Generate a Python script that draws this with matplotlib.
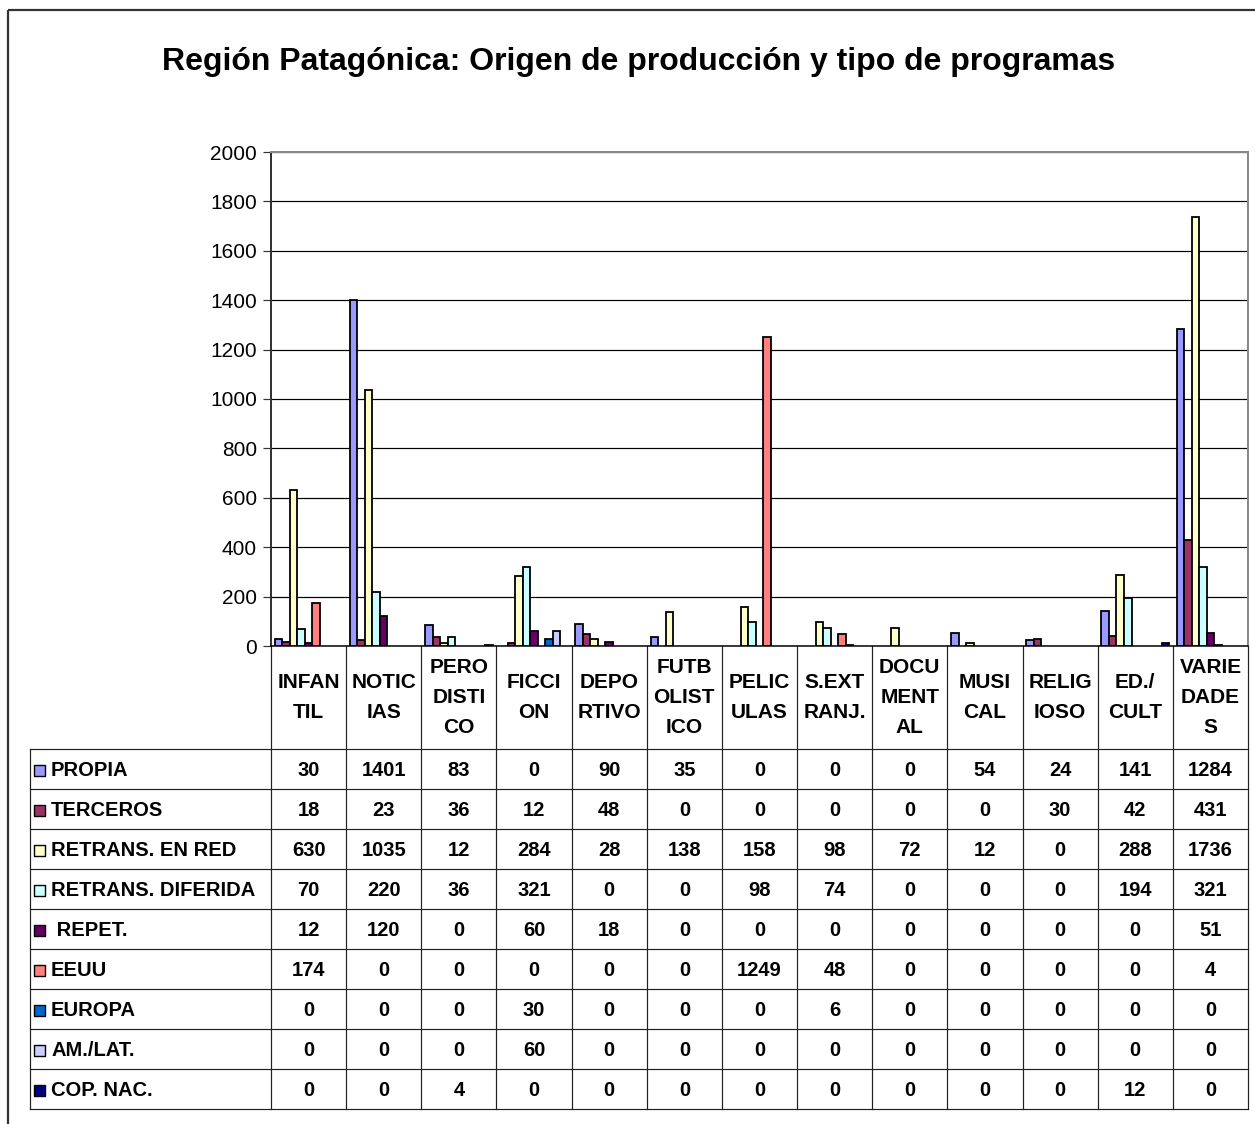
import matplotlib
matplotlib.use("Agg")
import matplotlib.pyplot as plt
import numpy as np

plt.rcParams['font.family'] = ['Liberation Sans', 'DejaVu Sans']

# --- data -------------------------------------------------------------
title = "Región Patagónica: Origen de producción y tipo de programas"

categories = ["INFAN\nTIL", "NOTIC\nIAS", "PERO\nDISTI\nCO", "FICCI\nON",
              "DEPO\nRTIVO", "FUTB\nOLIST\nICO", "PELIC\nULAS", "S.EXT\nRANJ.",
              "DOCU\nMENT\nAL", "MUSI\nCAL", "RELIG\nIOSO", "ED./\nCULT",
              "VARIE\nDADE\nS"]

series_names = ["PROPIA", "TERCEROS", "RETRANS. EN RED", "RETRANS. DIFERIDA",
                " REPET.", "EEUU", "EUROPA", "AM./LAT.", "COP. NAC."]

propia     = [30, 1401, 83, 0, 90, 35, 0, 0, 0, 54, 24, 141, 1284]
terceros   = [18, 23, 36, 12, 48, 0, 0, 0, 0, 0, 30, 42, 431]
retr_red   = [630, 1035, 12, 284, 28, 138, 158, 98, 72, 12, 0, 288, 1736]
retr_dif   = [70, 220, 36, 321, 0, 0, 98, 74, 0, 0, 0, 194, 321]
repet      = [12, 120, 0, 60, 18, 0, 0, 0, 0, 0, 0, 0, 51]
eeuu       = [174, 0, 0, 0, 0, 0, 1249, 48, 0, 0, 0, 0, 4]
europa     = [0, 0, 0, 30, 0, 0, 0, 6, 0, 0, 0, 0, 0]
am_lat     = [0, 0, 0, 60, 0, 0, 0, 0, 0, 0, 0, 0, 0]
cop_nac    = [0, 0, 4, 0, 0, 0, 0, 0, 0, 0, 0, 12, 0]

series = [propia, terceros, retr_red, retr_dif, repet, eeuu, europa, am_lat, cop_nac]

colors = ["#9999FF", "#993366", "#FFFFCC", "#CCFFFF", "#660066",
          "#FF8080", "#0066CC", "#CCCCFF", "#000080"]

y_ticks = [0, 200, 400, 600, 800, 1000, 1200, 1400, 1600, 1800, 2000]

# --- layout (pixels) --------------------------------------------------
W, H = 1255, 1124
DPI = 100
PX = 72.0 / DPI          # one pixel in points
plot_l, plot_r = 271, 1248
plot_t, plot_b = 152, 646
header_b = 749
row_h = 40
legend_l = 30

fig = plt.figure(figsize=(W / DPI, H / DPI), dpi=DPI)
fig.patch.set_facecolor("white")

# overlay in pixel coordinates for frame, table and title
ov = fig.add_axes([0, 0, 1, 1], zorder=0)
ov.set_xlim(0, W)
ov.set_ylim(H, 0)
ov.axis("off")

# bar chart axes
ax = fig.add_axes([plot_l / W, 1 - plot_b / H, (plot_r - plot_l) / W,
                   (plot_b - plot_t) / H], zorder=2)
ax.set_facecolor("none")
n_cat = len(categories)
n_ser = len(series)
x = np.arange(n_cat)
bw = 1.0 / (n_ser + 1)
for j, (vals, c) in enumerate(zip(series, colors)):
    vals = np.asarray(vals, dtype=float)
    keep = vals > 0
    ax.bar(x[keep] + (j - (n_ser - 1) / 2) * bw, vals[keep], width=bw, color=c,
           edgecolor="black", linewidth=1.8 * PX, zorder=3)

ax.set_xlim(-0.5, n_cat - 0.5)
ax.set_ylim(0, 2000)
ax.set_yticks(y_ticks)
ax.set_yticklabels([str(v) for v in y_ticks], fontsize=15)
ax.set_xticks([])
ax.tick_params(axis="y", length=6, width=1.2 * PX, color="#333333", pad=4)
ax.yaxis.grid(True, color="black", linewidth=1.2 * PX, zorder=1)
ax.set_axisbelow(True)
for s in ["top", "right"]:
    ax.spines[s].set_color("#888888")
    ax.spines[s].set_linewidth(2 * PX)
ax.spines["left"].set_color("#333333")
ax.spines["left"].set_linewidth(2 * PX)
ax.spines["bottom"].set_color("black")
ax.spines["bottom"].set_linewidth(1.5 * PX)

# outer chart frame
ov.plot([8, 8], [10, H + 5], color="#333333", lw=2.2 * PX, solid_capstyle="butt")
ov.plot([8, W + 5], [10, 10], color="#333333", lw=2.2 * PX, solid_capstyle="butt")

# title
ov.text(639, 62, title, ha="center", va="center", fontsize=23, fontweight="bold")

# data table
col_w = (plot_r - plot_l) / n_cat
table_b = header_b + row_h * n_ser
lc = "#222222"
lw = 1.2 * PX
for k in range(n_cat + 1):
    xe = plot_l + k * col_w
    ov.plot([xe, xe], [plot_b, table_b], color=lc, lw=lw)
ov.plot([legend_l, legend_l], [header_b, table_b], color=lc, lw=lw)
for r in range(n_ser + 1):
    yy = header_b + r * row_h
    ov.plot([legend_l, plot_r], [yy, yy], color=lc, lw=lw)

for k, lab in enumerate(categories):
    ov.text(plot_l + (k + 0.5) * col_w, (plot_b + header_b) / 2, lab,
            ha="center", va="center", fontsize=15, fontweight="bold",
            linespacing=1.75)

for r, (name, vals, c) in enumerate(zip(series_names, series, colors)):
    yc = header_b + (r + 0.5) * row_h + 1
    ov.add_patch(plt.Rectangle((34, yc - 5.5), 11, 11, facecolor=c,
                               edgecolor="black", lw=1.4 * PX))
    ov.text(51, yc, name, ha="left", va="center", fontsize=14.5,
            fontweight="bold")
    for k, v in enumerate(vals):
        ov.text(plot_l + (k + 0.5) * col_w, yc, str(v), ha="center",
                va="center", fontsize=14.5, fontweight="bold")

fig.savefig("out.png", dpi=DPI)
